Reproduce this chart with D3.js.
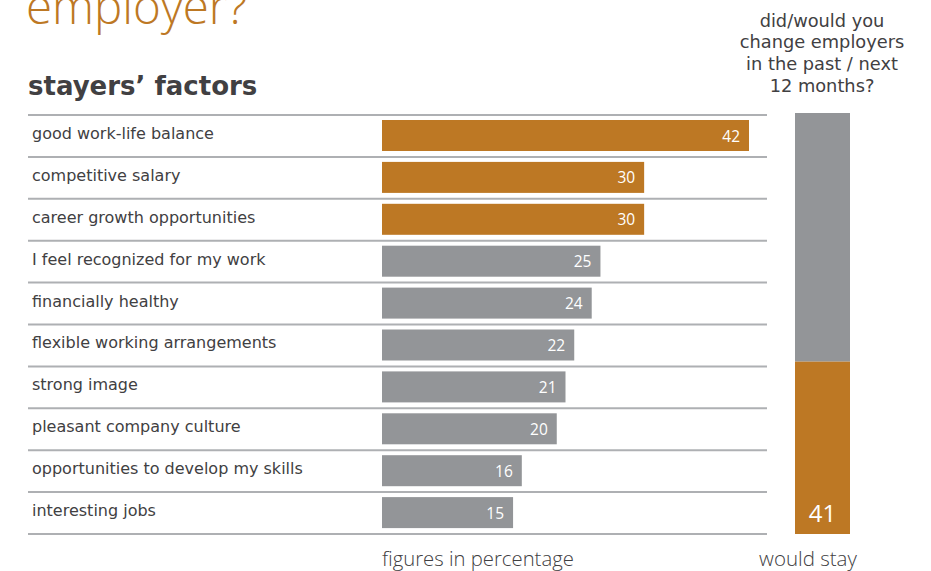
<!DOCTYPE html>
<html>
<head>
<meta charset="utf-8">
<script src="https://cdn.jsdelivr.net/npm/d3@7"></script>
<style>
  html, body { margin: 0; padding: 0; background: #fff; }
  svg { display: block; }
</style>
</head>
<body>
<svg id="chart" width="931" height="571"></svg>
<script>
// Stayers' factors: share of respondents naming each reason (%)
const factors = [
  "good work-life balance",
  "competitive salary",
  "career growth opportunities",
  "I feel recognized for my work",
  "financially healthy",
  "flexible working arrangements",
  "strong image",
  "pleasant company culture",
  "opportunities to develop my skills",
  "interesting jobs"
];
const factorValues = [42, 30, 30, 25, 24, 22, 21, 20, 16, 15];
const highlightedCount = 3; // top factors shown in the accent colour

// Right-hand column: would stay vs. would change (%)
const stayCategories = ["would change", "would stay"];
const stayValues = [59, 41];

const ORANGE = "#bd7824";
const GREY = "#939598";
const RULE = "#aeb0b3";
const TEXT = "#414042";
const LABEL_FONT = "'DejaVu Sans', sans-serif";
const LIGHT_FONT = "'Open Sans', 'Noto Sans', sans-serif";

const svg = d3.select("#chart");

// Headline (continues from the line above)
svg.append("text")
  .attr("x", 26).attr("y", 24)
  .attr("fill", ORANGE)
  .attr("font-family", LIGHT_FONT)
  .attr("font-weight", 300)
  .attr("font-size", 47.5)
  .text("employer?");

svg.append("text")
  .attr("x", 28).attr("y", 95)
  .attr("fill", TEXT)
  .attr("font-family", LABEL_FONT)
  .attr("font-weight", "bold")
  .attr("font-size", 26)
  .text("stayers\u2019 factors");

// Scales
const y = d3.scaleBand()
  .domain(factors)
  .range([115, 534])
  .paddingInner(0)
  .paddingOuter(0);

const x = d3.scaleLinear()
  .domain([0, 42])
  .range([382, 749]);

// Horizontal rules between rows
const ruleYs = factors.map(f => y(f)).concat([y.range()[1]]);
svg.append("g")
  .selectAll("line")
  .data(ruleYs)
  .join("line")
  .attr("x1", 28).attr("x2", 767)
  .attr("y1", d => d).attr("y2", d => d)
  .attr("stroke", RULE)
  .attr("stroke-width", 2);

// Row labels
svg.append("g")
  .selectAll("text")
  .data(factors)
  .join("text")
  .attr("x", 32)
  .attr("y", d => y(d) + y.bandwidth() / 2 + 3)
  .attr("fill", TEXT)
  .attr("font-family", LABEL_FONT)
  .attr("font-size", 16)
  .text(d => d);

// Bars
const barInset = 5, barH = 31;
const rows = factors.map((f, i) => ({ f, v: factorValues[i], i }));

svg.append("g")
  .selectAll("rect")
  .data(rows)
  .join("rect")
  .attr("x", x(0))
  .attr("y", d => y(d.f) + barInset)
  .attr("width", d => x(d.v) - x(0))
  .attr("height", barH)
  .attr("fill", d => d.i < highlightedCount ? ORANGE : GREY);

// Value labels inside bar ends
svg.append("g")
  .selectAll("text")
  .data(rows)
  .join("text")
  .attr("x", d => x(d.v) - 9)
  .attr("y", d => y(d.f) + barInset + barH / 2 + 6)
  .attr("text-anchor", "end")
  .attr("fill", "#fff")
  .attr("font-family", LIGHT_FONT)
  .attr("font-size", 15.5)
  .text(d => d.v);

// Stacked column on the right: "would stay" at the bottom, "would change" above
const colX = 795, colW = 55;
const yStack = d3.scaleLinear().domain([0, 100]).range([534, 113]);
const order = ["would stay", "would change"];
let base = 0;
const segs = order.map(k => {
  const v = stayValues[stayCategories.indexOf(k)];
  const s = { k, v, y0: base, y1: base + v };
  base += v;
  return s;
});

svg.append("g")
  .selectAll("rect")
  .data(segs)
  .join("rect")
  .attr("x", colX)
  .attr("width", colW)
  .attr("y", d => yStack(d.y1))
  .attr("height", d => yStack(d.y0) - yStack(d.y1))
  .attr("fill", d => d.k === "would stay" ? ORANGE : GREY);

const staySeg = segs.find(s => s.k === "would stay");
svg.append("text")
  .attr("x", colX + colW / 2)
  .attr("y", yStack(staySeg.y0) - 12)
  .attr("text-anchor", "middle")
  .attr("fill", "#fff")
  .attr("font-family", LIGHT_FONT)
  .attr("font-size", 24)
  .text(staySeg.v);

// Column header
const header = ["did/would you", "change employers", "in the past / next", "12 months?"];
svg.append("g")
  .selectAll("text")
  .data(header)
  .join("text")
  .attr("x", 822)
  .attr("y", (d, i) => 26.5 + i * 21.8)
  .attr("text-anchor", "middle")
  .attr("fill", TEXT)
  .attr("font-family", LABEL_FONT)
  .attr("font-size", 17.8)
  .text(d => d);

// Footnotes
svg.append("text")
  .attr("x", 382).attr("y", 566)
  .attr("fill", TEXT)
  .attr("font-family", LIGHT_FONT)
  .attr("font-weight", 300)
  .attr("font-size", 20.3)
  .text("figures in percentage");

svg.append("text")
  .attr("x", 808).attr("y", 566)
  .attr("text-anchor", "middle")
  .attr("fill", TEXT)
  .attr("font-family", LIGHT_FONT)
  .attr("font-weight", 300)
  .attr("font-size", 20.5)
  .text("would stay");
</script>
</body>
</html>
